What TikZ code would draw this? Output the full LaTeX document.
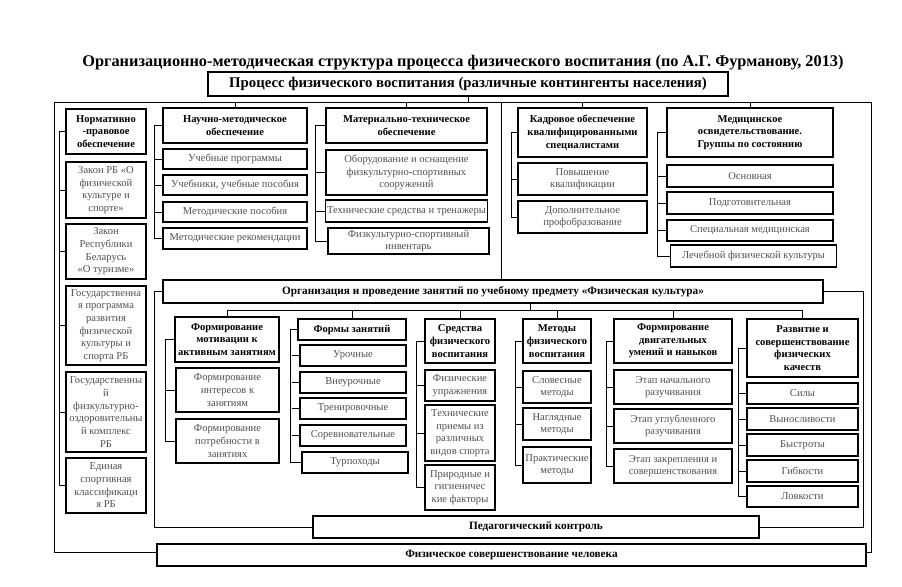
\documentclass[tikz,border=0pt]{standalone}
\usepackage{fontspec}
\setmainfont{Liberation Serif}
\definecolor{bodyGray}{HTML}{505050}
\tikzset{
  hbox/.style={draw, line width=0.9pt, fill=white, align=center, inner sep=1pt,
               font=\fontsize{7.5}{9}\selectfont\bfseries},
  sbox/.style={draw, line width=0.9pt, fill=white, align=center, inner sep=1pt,
               text=bodyGray, font=\fontsize{7.5}{9}\selectfont},
  wh/.style 2 args={minimum width=#1*0.025cm, minimum height=#2*0.025cm},
  link/.style={line width=0.7pt},
}

\begin{document}
\begin{tikzpicture}[x=0.025cm, y=-0.025cm]
    \useasboundingbox (0,0) rectangle (902,586);
    % outer frame
    \draw[link] (54,102) rectangle (871,552);
    \coordinate (ft) at (0,102);
    \coordinate (sep) at (501,102);
    \coordinate (bus) at (0,310);
    \coordinate (ot) at (530,310);
    \coordinate (lp) at (154,0);
    \coordinate (rp) at (863,0);

    \node[font=\fontsize{11.6}{13}\selectfont\bfseries] (title) at (463,63)
      {Организационно-методическая структура процесса физического воспитания (по А.Г. Фурманову, 2013)};
    \node[hbox, wh={520}{24}, font=\fontsize{10.5}{12}\selectfont\bfseries] (top) at (468,84)
      {Процесс физического воспитания (различные контингенты населения)};

    % upper part
    \node[hbox, wh={80}{45}] (n0) at (106,131.5) {Нормативно\\-правовое\\обеспечение};
    \node[sbox, wh={80}{56}] (n1) at (106,190) {Закон РБ «О\\физической\\культуре и\\спорте»};
    \node[sbox, wh={80}{55}] (n2) at (106,251.5) {Закон\\Республики\\Беларусь\\«О туризме»};
    \node[sbox, wh={80}{79}] (n3) at (106,325.5) {Государственна\\я программа\\развития\\физической\\культуры и\\спорта РБ};
    \node[sbox, wh={80}{80}] (n4) at (106,412) {Государственны\\й\\физкультурно-\\оздоровительны\\й комплекс\\РБ};
    \node[sbox, wh={80}{55}] (n5) at (106,485.5) {Единая\\спортивная\\классификаци\\я РБ};

    \node[hbox, wh={144}{35}] (m0) at (235,125.5) {Научно-методическое\\обеспечение};
    \node[sbox, wh={144}{20}] (m1) at (235,159) {Учебные программы};
    \node[sbox, wh={144}{20}] (m2) at (235,185) {Учебники, учебные пособия};
    \node[sbox, wh={144}{20}] (m3) at (235,212) {Методические пособия};
    \node[sbox, wh={144}{21}] (m4) at (235,238.5) {Методические рекомендации};

    \node[hbox, wh={161}{35}] (t0) at (406.5,125.5) {Материально-техническое\\обеспечение};
    \node[sbox, wh={161}{45}] (t1) at (406.5,172.5) {Оборудование и оснащение\\физкультурно-спортивных\\сооружений};
    \node[sbox, wh={161}{22}] (t2) at (406.5,211) {Технические средства и тренажеры};
    \node[sbox, wh={161}{26}] (t3) at (408.5,241) {Физкультурно-спортивный\\инвентарь};

    \node[hbox, wh={129}{49}] (k0) at (582.5,132.5) {Кадровое обеспечение\\квалифицированными\\специалистами};
    \node[sbox, wh={129}{32}] (k1) at (582.5,179) {Повышение\\квалификации};
    \node[sbox, wh={129}{32}] (k2) at (582.5,217) {Дополнительное\\профобразование};

    \node[hbox, wh={166}{49}] (d0) at (750,132.5) {Медицинское\\освидетельствование.\\Группы по состоянию};
    \node[sbox, wh={166}{22}] (d1) at (750,176) {Основная};
    \node[sbox, wh={166}{22}] (d2) at (750,203) {Подготовительная};
    \node[sbox, wh={166}{21}] (d3) at (750,230.5) {Специальная медицинская};
    \node[sbox, wh={166}{22}] (d4) at (753.5,256) {Лечебной физической культуры};

    % middle part
    \node[hbox, wh={660}{23}, font=\fontsize{8}{9}\selectfont\bfseries] (o) at (493,291.5)
      {Организация и проведение занятий по учебному предмету «Физическая культура»};

    \node[hbox, wh={104}{45}] (a0) at (227,339.5) {Формирование\\мотивации к\\активным занятиям};
    \node[sbox, wh={103}{44}] (a1) at (227.5,390) {Формирование\\интересов к\\занятиям};
    \node[sbox, wh={103}{44}] (a2) at (227.5,441) {Формирование\\потребности в\\занятиях};

    \node[hbox, wh={108}{21}] (f0) at (352,329.5) {Формы занятий};
    \node[sbox, wh={106}{21}] (f1) at (353,355.5) {Урочные};
    \node[sbox, wh={106}{21}] (f2) at (353,382.5) {Внеурочные};
    \node[sbox, wh={106}{21}] (f3) at (353,408.5) {Тренировочные};
    \node[sbox, wh={106}{21}] (f4) at (353,435.5) {Соревновательные};
    \node[sbox, wh={106}{21}] (f5) at (355,462.5) {Турпоходы};

    \node[hbox, wh={70}{44}] (g0) at (460,341) {Средства\\физического\\воспитания};
    \node[sbox, wh={70}{31}] (g1) at (460,385.5) {Физические\\упражнения};
    \node[sbox, wh={70}{56}] (g2) at (460,433) {Технические\\приемы из\\различных\\видов спорта};
    \node[sbox, wh={70}{45}] (g3) at (460,487.5) {Природные и\\гигиеничес\\кие факторы};

    \node[hbox, wh={68}{44}] (h0) at (557,341) {Методы\\физического\\воспитания};
    \node[sbox, wh={68}{32}] (h1) at (557,387) {Словесные\\методы};
    \node[sbox, wh={68}{32}] (h2) at (557,424) {Наглядные\\методы};
    \node[sbox, wh={68}{36}] (h3) at (557,465) {Практические\\методы};

    \node[hbox, wh={118}{44}] (e0) at (673,341) {Формирование\\двигательных\\умений и навыков};
    \node[sbox, wh={118}{34}] (e1) at (673,387) {Этап начального\\разучивания};
    \node[sbox, wh={118}{34}] (e2) at (673,426) {Этап углубленного\\разучивания};
    \node[sbox, wh={118}{34}] (e3) at (673,466) {Этап закрепления и\\совершенствования};

    \node[hbox, wh={111}{58}] (q0) at (802.5,348) {Развитие и\\совершенствование\\физических\\качеств};
    \node[sbox, wh={111}{21}] (q1) at (802.5,393.5) {Силы};
    \node[sbox, wh={111}{22}] (q2) at (802.5,419) {Выносливости};
    \node[sbox, wh={111}{22}] (q3) at (802.5,445) {Быстроты};
    \node[sbox, wh={111}{22}] (q4) at (802.5,471) {Гибкости};
    \node[sbox, wh={111}{21}] (q5) at (802.5,496.5) {Ловкости};

    % lower part
    \node[hbox, wh={446}{22}, font=\fontsize{8}{9}\selectfont\bfseries] (p) at (536,527) {Педагогический контроль};
    \node[hbox, wh={709}{22}, font=\fontsize{8}{9}\selectfont\bfseries] (z) at (511.5,555) {Физическое совершенствование человека};

    % connectors
    \draw[link] (top.south) -- (top.south |- ft);
    \draw[link] (m0.north) -- (m0.north |- ft);
    \draw[link] (t0.north) -- (t0.north |- ft);
    \draw[link] (k0.north) -- (k0.north |- ft);
    \draw[link] (d0.north) -- (d0.north |- ft);
    \draw[link] (sep) -- (sep |- o.north);

    \draw[link] (n0.west) -- ++(-6,0) |- (n5.west)
      (n1.west) -- ++(-6,0) (n2.west) -- ++(-6,0) (n3.west) -- ++(-6,0) (n4.west) -- ++(-6,0);
    \draw[link] (m0.west) -- ++(-8,0) |- (m4.west)
      (m1.west) -- ++(-8,0) (m2.west) -- ++(-8,0) (m3.west) -- ++(-8,0);
    \draw[link] (t0.west) -- ++(-10,0) |- (t3.west)
      (t1.west) -- ++(-10,0) (t2.west) -- ++(-10,0);
    \draw[link] (k0.west) -- ++(-6,0) |- (k2.west)
      (k1.west) -- ++(-6,0);
    \draw[link] (d0.west) -- ++(-9,0) |- (d4.west)
      (d1.west) -- ++(-9,0) (d2.west) -- ++(-9,0) (d3.west) -- ++(-9,0);

    \draw[link] (o.south -| ot) -- (ot);
    \draw[link] (a0.north) -- (a0.north |- bus) -- (q0.north |- bus) -- (q0.north);
    \draw[link] (f0.north) -- (f0.north |- bus);
    \draw[link] (g0.north) -- (g0.north |- bus);
    \draw[link] (h0.north) -- (h0.north |- bus);
    \draw[link] (e0.north) -- (e0.north |- bus);

    \draw[link] (a0.west) -- ++(-9,0) |- (a2.west)
      (a1.west) -- ++(-9,0);
    \draw[link] (f0.west) -- ++(-7,0) |- (f5.west)
      (f1.west) -- ++(-7,0) (f2.west) -- ++(-7,0) (f3.west) -- ++(-7,0) (f4.west) -- ++(-7,0);
    \draw[link] (g0.west) -- ++(-8,0) |- (g3.west)
      (g1.west) -- ++(-8,0) (g2.west) -- ++(-8,0);
    \draw[link] (h0.west) -- ++(-7,0) |- (h3.west)
      (h1.west) -- ++(-7,0) (h2.west) -- ++(-7,0);
    \draw[link] (e0.west) -- ++(-7,0) |- (e3.west)
      (e1.west) -- ++(-7,0) (e2.west) -- ++(-7,0);
    \draw[link] (q0.west) -- ++(-8,0) |- (q5.west)
      (q1.west) -- ++(-8,0) (q2.west) -- ++(-8,0) (q3.west) -- ++(-8,0) (q4.west) -- ++(-8,0);

    \draw[link] (o.west) -- (o.west -| lp) |- (p.west);
    \draw[link] (o.east) -- (o.east -| rp) |- (p.east);
\end{tikzpicture}
\end{document}
